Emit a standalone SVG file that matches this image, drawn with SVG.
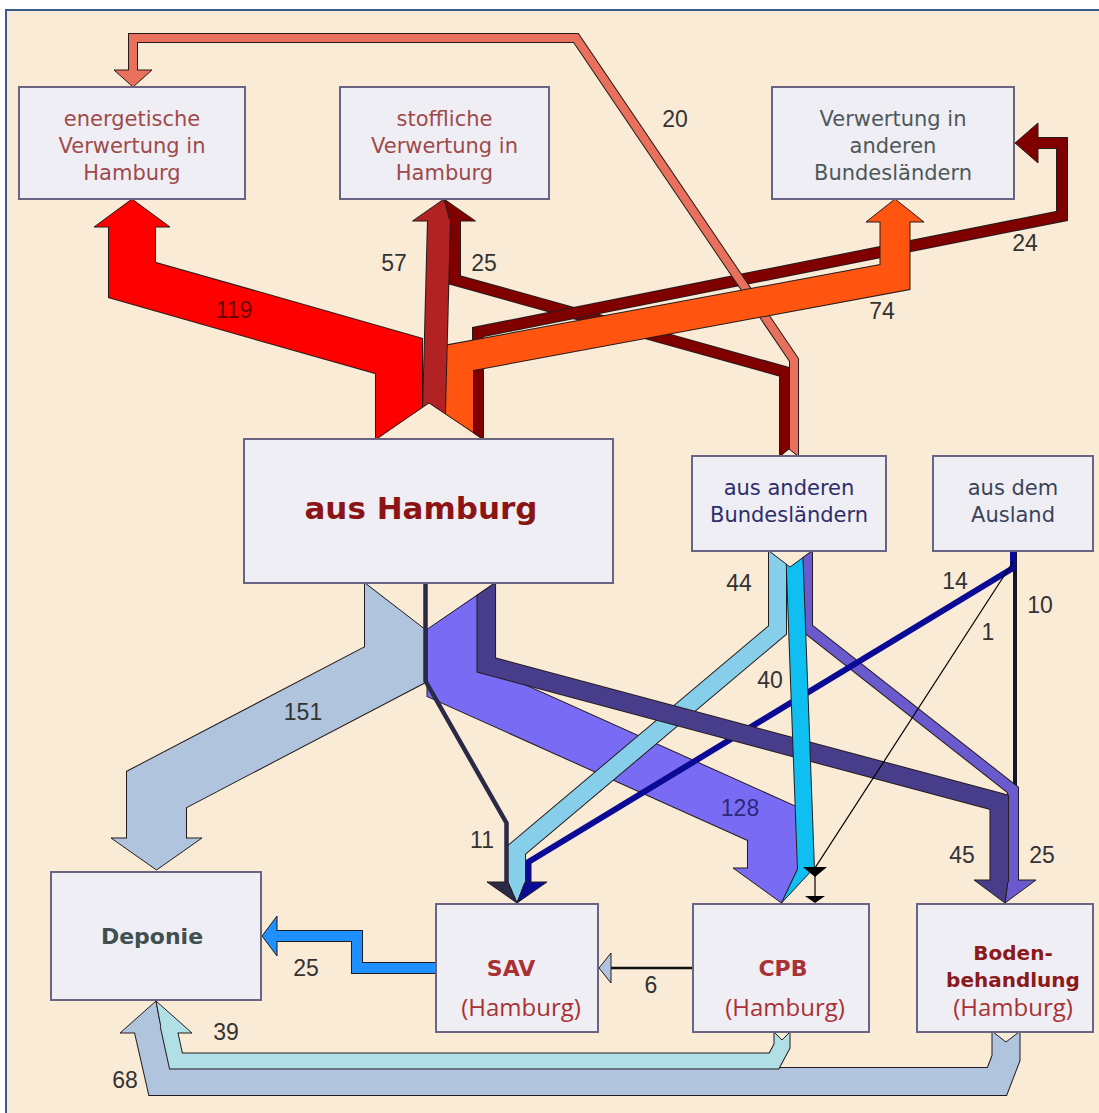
<svg xmlns="http://www.w3.org/2000/svg" width="1099" height="1113" viewBox="0 0 1099 1113">
<defs>
<style>
.o{fill:none;stroke:#241c1c;stroke-linejoin:miter;stroke-miterlimit:10}
.f{fill:none;stroke-linejoin:miter;stroke-miterlimit:10}
.h{stroke:#241c1c;stroke-width:1;stroke-linejoin:miter}
.nb{fill:#FAEBD7;stroke:none}
.nl{fill:none;stroke:#241c1c;stroke-width:1}
.box{fill:#F0EEF5;stroke:#6A6482;stroke-width:2}
.lbl{font-family:"Liberation Sans",Arial,sans-serif;font-size:23px;fill:#333;text-anchor:middle}
.nt{font-family:"DejaVu Sans",Verdana,sans-serif;font-size:21px;text-anchor:middle}
.nb2{font-family:"DejaVu Sans",Verdana,sans-serif;font-weight:bold;text-anchor:middle}
.hh{font-family:"Open Sans","Noto Sans",sans-serif;font-size:24px;fill:#A83232;text-anchor:middle}
</style>
</defs>
<rect x="0" y="0" width="1099" height="1113" fill="#ffffff"/>
<rect x="6" y="10" width="1100" height="1110" fill="#FAEBD7" stroke="#3b5b8c" stroke-width="2"/>

<g id="connectors">
  <!-- top flows -->
  <g id="f-darkred25">
    <path class="o" stroke-width="12" d="M785,462 L785,372 L455,280 L455,217"/>
    <path class="f" stroke="#800000" stroke-width="10" d="M785,462 L785,372 L455,280 L455,217"/>
  </g>
  <g id="f-darkred24">
    <path class="o" stroke-width="12" d="M478,450 L478,332 L1062,216 L1062,143 L1036,143"/>
    <polygon class="h" fill="#800000" points="1038,123 1038,163 1015,143"/>
    <path class="f" stroke="#800000" stroke-width="10" d="M478,450 L478,332 L1062,216 L1062,143 L1036,143"/>
  </g>
  <g id="f-salmon20">
    <path class="o" stroke-width="10" d="M794,462 L794,360 L576,38 L133,38 L133,72"/>
    <polygon class="h" fill="#E8705C" points="114,70 152,70 133,87"/>
    <path class="f" stroke="#E8705C" stroke-width="8" d="M794,462 L794,360 L576,38 L133,38 L133,72"/>
  </g>
  <g id="f-red119">
    <path class="o" stroke-width="48" d="M399,450 L399,356 L132,280 L132,225"/>
    <polygon class="h" fill="#FF0000" points="94,227 170,227 132,199"/>
    <path class="f" stroke="#FF0000" stroke-width="46" d="M399,450 L399,356 L132,280 L132,225"/>
  </g>
  <g id="f-orange74">
    <path class="o" stroke-width="31" d="M458.5,450 L458.5,358 L895,277 L895,220"/>
    <polygon class="h" fill="#FF5511" points="866,222 924,222 895,199"/>
    <path class="f" stroke="#FF5511" stroke-width="29" d="M458.5,450 L458.5,358 L895,277 L895,220"/>
  </g>
  <g id="f-brown57">
    <path class="o" stroke-width="24" d="M433,450 L439,219"/>
    <polygon class="h" fill="#B22222" points="412.5,221 450,221 444,199"/>
    <polygon class="h" fill="#800000" points="450,221 475.5,221 444,199"/>
    <path class="f" stroke="#B22222" stroke-width="22" d="M433,450 L439,219"/>
    <path class="f" stroke="#800000" stroke-width="10" d="M455,225 L455,219"/>
  </g>
  <!-- notches at top -->
  <polygon class="nb" points="376,440 429,403 483,440"/>
  <polyline class="nl" points="376,439 429,403 483,439"/>
  <polygon class="nb" points="780,457 789,449 798,457"/>
  <polyline class="nl" points="780,456 789,449 798,456"/>

  <!-- bottom flows -->
  <g id="f-lsb151">
    <path class="o" stroke-width="61" d="M394.5,575 L394.5,665 L156.5,789.5 L156.5,840"/>
    <polygon class="h" fill="#B0C4DE" points="111,838 202,838 156.5,870"/>
    <path class="f" stroke="#B0C4DE" stroke-width="59" d="M394.5,575 L394.5,665 L156.5,789.5 L156.5,840"/>
  </g>
  <g id="f-purple128">
    <path class="o" stroke-width="52" d="M452.5,575 L452.5,680 L773,824 L773,870"/>
    <polygon class="h" fill="#7A6BF5" points="733,868 798,868 781.5,903"/>
    <path class="f" stroke="#7A6BF5" stroke-width="50" d="M452.5,575 L452.5,680 L773,824 L773,870"/>
  </g>
  <g id="f-skyblue44">
    <path class="o" stroke-width="19" d="M777.5,545 L777.5,630 L516.5,850 L516.5,884"/>
    <polygon class="h" fill="#87CEEB" points="508,882 525,882 517,903"/>
    <path class="f" stroke="#87CEEB" stroke-width="17" d="M777.5,545 L777.5,630 L516.5,850 L516.5,884"/>
  </g>
  <g id="f-black10">
    <path class="f" stroke="#16162a" stroke-width="4" d="M1015,548 L1015,884"/>
  </g>
  <g id="f-slateblue25">
    <path class="o" stroke-width="12" d="M807,545 L807,628 L1013,790 L1013,882"/>
    <polygon class="h" fill="#6A5ACD" points="1008,880 1036,880 1005,903"/>
    <path class="f" stroke="#6A5ACD" stroke-width="10" d="M807,545 L807,628 L1013,790 L1013,882"/>
  </g>
  <g id="f-navy14">
    <path class="f" stroke="#0A0A96" stroke-width="6" d="M1013,548 L1013,568 L528.5,862 L528.5,884"/>
    <polygon class="h" fill="#0A0A96" points="525,882 547,882 517,903"/>
  </g>
  <g id="f-darkslate45">
    <path class="o" stroke-width="19.6" d="M486.25,575 L486.25,665 L999.25,802.3 L999.25,882"/>
    <polygon class="h" fill="#483D8B" points="974,880 1008,880 1005,903"/>
    <path class="f" stroke="#483D8B" stroke-width="17.6" d="M486.25,575 L486.25,665 L999.25,802.3 L999.25,882"/>
  </g>
  <g id="f-deepsky40">
    <path class="o" stroke-width="18" d="M794,545 L806,870"/>
    <polygon class="h" fill="#10BFF2" points="798,868 814,868 781.5,903"/>
    <path class="f" stroke="#10BFF2" stroke-width="16" d="M794,545 L806,870"/>
  </g>
  <g id="f-thin1">
    <path class="f" stroke="#000" stroke-width="1.2" d="M1013,562 L815,868 L815,898"/>
    <polygon fill="#000" points="803,867 827,867 815,877"/>
    <polygon fill="#000" points="805,896 825,896 815,903"/>
  </g>
  <!-- notch at aus Hamburg bottom and aus anderen bottom -->
  <polygon class="nb" points="365,582 426,630 495,582"/>
  <polyline class="nl" points="365,583 426,630 495,583"/>
  <polygon class="nb" points="769,550 790,567 812,550"/>
  <polyline class="nl" points="769,551 790,567 812,551"/>
  <g id="f-dark11">
    <path class="f" stroke="#2a2946" stroke-width="4.5" d="M425.5,580 L425.5,681 L506.5,823 L506.5,884"/>
    <polygon class="h" fill="#2a2946" points="487,882 508,882 517,903"/>
  </g>

  <!-- flows among lower nodes -->
  <g id="f-dodger25">
    <path class="o" stroke-width="12" d="M440,968 L357,968 L357,936 L275,936"/>
    <polygon class="h" fill="#1E90FF" points="277,916 277,956 262,936"/>
    <path class="f" stroke="#1E90FF" stroke-width="10" d="M440,968 L357,968 L357,936 L275,936"/>
  </g>
  <g id="f-black6">
    <path class="f" stroke="#111" stroke-width="2.5" d="M695,968 L609,968"/>
    <polygon class="h" fill="#B0C4DE" points="611,953 611,983 599,968"/>
  </g>
  <g id="f-lsb68">
    <path class="o" stroke-width="29" d="M1006,1028 L1006,1058 L997,1081.5 L160,1081.5 L147.1,1025"/>
    <polygon class="h" fill="#B0C4DE" points="120,1033 162,1033 156,1001"/>
    <path class="f" stroke="#B0C4DE" stroke-width="27" d="M1006,1028 L1006,1058 L997,1081.5 L160,1081.5 L147.1,1025"/>
  </g>
  <g id="f-light39">
    <path class="o" stroke-width="17" d="M782,1028 L782,1046 L774,1061 L176,1061 L168.1,1025"/>
    <polygon class="h" fill="#B0E0E6" points="162,1033 192,1033 156,1001"/>
    <path class="f" stroke="#B0E0E6" stroke-width="15" d="M782,1028 L782,1046 L774,1061 L176,1061 L168.1,1025"/>
  </g>
  <polygon class="nb" points="774,1031 782,1040 790,1031"/>
  <polyline class="nl" points="774,1032 782,1040 790,1032"/>
  <polygon class="nb" points="992,1031 1006,1042 1020,1031"/>
  <polyline class="nl" points="993,1032 1006,1042 1019,1032"/>

  <!-- labels -->
  <text class="lbl" x="675" y="127">20</text>
  <text class="lbl" x="234" y="318" style="fill:#6a0000">119</text>
  <text class="lbl" x="394" y="271">57</text>
  <text class="lbl" x="484" y="271">25</text>
  <text class="lbl" x="882" y="319">74</text>
  <text class="lbl" x="1025" y="251">24</text>
  <text class="lbl" x="739" y="591">44</text>
  <text class="lbl" x="955" y="589">14</text>
  <text class="lbl" x="1040" y="613">10</text>
  <text class="lbl" x="988" y="640">1</text>
  <text class="lbl" x="770" y="688">40</text>
  <text class="lbl" x="303" y="720">151</text>
  <text class="lbl" x="740" y="816" style="fill:#2a2a7a">128</text>
  <text class="lbl" x="482" y="848">11</text>
  <text class="lbl" x="962" y="863">45</text>
  <text class="lbl" x="1042" y="863">25</text>
  <text class="lbl" x="306" y="976">25</text>
  <text class="lbl" x="651" y="993">6</text>
  <text class="lbl" x="226" y="1040">39</text>
  <text class="lbl" x="125" y="1088">68</text>
</g>

<g id="node-energetisch">
  <rect class="box" x="19" y="87" width="226" height="112"/>
  <text class="nt" fill="#9E4A4A" x="132" y="126">energetische</text>
  <text class="nt" fill="#9E4A4A" x="132" y="153">Verwertung in</text>
  <text class="nt" fill="#9E4A4A" x="132" y="180">Hamburg</text>
</g>
<g id="node-stofflich">
  <rect class="box" x="340" y="87" width="209" height="112"/>
  <text class="nt" fill="#9E4A4A" x="444.5" y="126">stoffliche</text>
  <text class="nt" fill="#9E4A4A" x="444.5" y="153">Verwertung in</text>
  <text class="nt" fill="#9E4A4A" x="444.5" y="180">Hamburg</text>
</g>
<g id="node-verwertung-bl">
  <rect class="box" x="772" y="87" width="242" height="112"/>
  <text class="nt" fill="#4E5858" x="893" y="126">Verwertung in</text>
  <text class="nt" fill="#4E5858" x="893" y="153">anderen</text>
  <text class="nt" fill="#4E5858" x="893" y="180">Bundesländern</text>
</g>
<g id="node-aus-hamburg">
  <rect class="box" x="244" y="439" width="369" height="144"/>
  <text class="nb2" fill="#8B1515" font-size="31" x="421" y="519">aus Hamburg</text>
</g>
<g id="node-aus-bl">
  <rect class="box" x="692" y="456" width="194" height="95"/>
  <text class="nt" fill="#2d2d6b" x="789" y="495">aus anderen</text>
  <text class="nt" fill="#2d2d6b" x="789" y="522">Bundesländern</text>
</g>
<g id="node-ausland">
  <rect class="box" x="933" y="456" width="160" height="95"/>
  <text class="nt" fill="#3a4458" x="1013" y="495">aus dem</text>
  <text class="nt" fill="#3a4458" x="1013" y="522">Ausland</text>
</g>
<g id="node-deponie">
  <rect class="box" x="51" y="872" width="210" height="128"/>
  <text class="nb2" fill="#3E5050" font-size="22" x="152" y="944">Deponie</text>
</g>
<g id="node-sav">
  <rect class="box" x="436" y="904" width="162" height="128"/>
  <text class="nb2" fill="#A83232" font-size="22" x="511" y="976">SAV</text>
  <text class="hh" x="521" y="1016">(Hamburg)</text>
</g>
<g id="node-cpb">
  <rect class="box" x="693" y="904" width="176" height="128"/>
  <text class="nb2" fill="#A83232" font-size="22" x="783" y="976">CPB</text>
  <text class="hh" x="785" y="1016">(Hamburg)</text>
</g>
<g id="node-boden">
  <rect class="box" x="917" y="904" width="176" height="128"/>
  <text class="nb2" fill="#8B1A1A" font-size="20" x="1013" y="960">Boden-</text>
  <text class="nb2" fill="#8B1A1A" font-size="20" x="1013" y="987">behandlung</text>
  <text class="hh" x="1013" y="1016">(Hamburg)</text>
</g>
</svg>
